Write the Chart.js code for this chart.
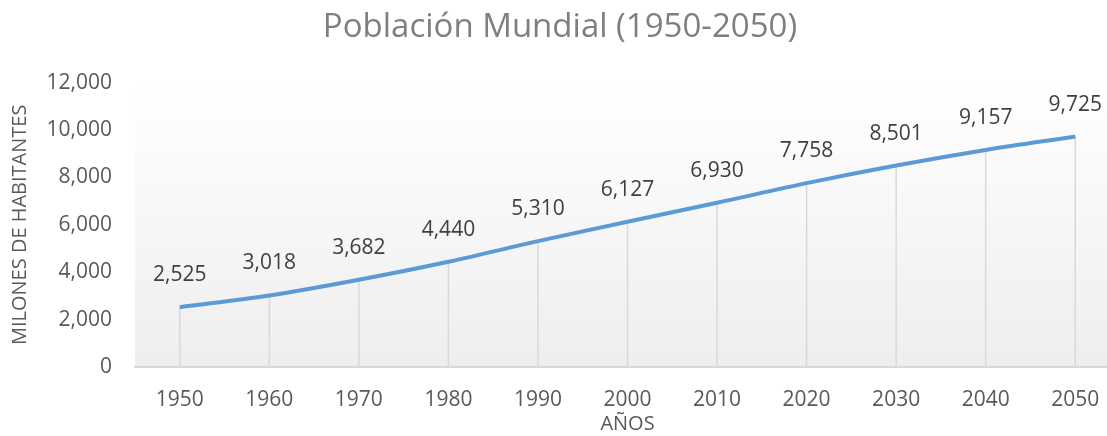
<!DOCTYPE html>
<html>
<head>
<meta charset="utf-8">
<script src="https://cdn.jsdelivr.net/npm/chart.js@4/dist/chart.umd.min.js"></script>
<style>
  html, body { margin: 0; padding: 0; background: #fff; overflow: hidden; }
  #wrap { width: 1120px; height: 436px; }
</style>
</head>
<body>
<div id="wrap"><canvas id="popChart" width="1120" height="436"></canvas></div>
<script>
const years = ["1950", "1960", "1970", "1980", "1990", "2000", "2010", "2020", "2030", "2040", "2050"];
const population = [2525, 3018, 3682, 4440, 5310, 6127, 6930, 7758, 8501, 9157, 9725];
const yTicks = [0, 2000, 4000, 6000, 8000, 10000, 12000];

const FONT = "'Open Sans', sans-serif";
const fmt = v => v.toLocaleString("en-US");

// fondo degradado del área de trazado
const plotBg = {
  id: "plotBg",
  beforeDraw(chart) {
    const { ctx, chartArea: a } = chart;
    const g = ctx.createLinearGradient(0, a.top, 0, a.bottom);
    g.addColorStop(0, "#ffffff");
    g.addColorStop(1, "#eeeeee");
    ctx.save();
    ctx.fillStyle = g;
    ctx.fillRect(a.left, a.top, a.right - a.left, a.bottom - a.top);
    ctx.restore();
  }
};

// líneas de caída + etiquetas de datos
const dropLines = {
  id: "dropLines",
  beforeDatasetsDraw(chart) {
    const { ctx, scales: { x, y } } = chart;
    ctx.save();
    ctx.strokeStyle = "#d9d9d9";
    ctx.lineWidth = 1.5;
    population.forEach((v, i) => {
      const px = x.getPixelForValue(i);
      ctx.beginPath();
      ctx.moveTo(px, y.getPixelForValue(v));
      ctx.lineTo(px, y.getPixelForValue(0));
      ctx.stroke();
    });
    ctx.restore();
  },
  afterDatasetsDraw(chart) {
    const { ctx, scales: { x, y } } = chart;
    ctx.save();
    ctx.fillStyle = "#404040";
    ctx.font = "21px " + FONT;
    ctx.textAlign = "center";
    ctx.textBaseline = "middle";
    population.forEach((v, i) => {
      ctx.fillText(fmt(v), x.getPixelForValue(i), y.getPixelForValue(v) - 32);
    });
    ctx.restore();
  }
};

new Chart(document.getElementById("popChart"), {
  type: "line",
  data: {
    labels: years,
    datasets: [{
      data: population,
      borderColor: "#5b9bd5",
      borderWidth: 4,
      pointRadius: 0,
      tension: 0.35,
      fill: false
    }]
  },
  options: {
    responsive: false,
    animation: false,
    layout: { padding: 0 },
    plugins: {
      legend: { display: false },
      tooltip: { enabled: false },
      title: {
        display: true,
        text: "Población Mundial (1950-2050)",
        color: "#7f7f7f",
        font: { family: FONT, size: 33, weight: "normal" },
        padding: { top: 8, bottom: 35 }
      }
    },
    scales: {
      x: {
        offset: true,
        grid: { display: false, drawTicks: false },
        border: { color: "#d9d9d9", width: 2 },
        ticks: { color: "#595959", font: { family: FONT, size: 21 }, padding: 20, maxRotation: 0 },
        title: {
          display: true, text: "AÑOS", color: "#595959",
          font: { family: FONT, size: 20 }, padding: { top: 0, bottom: 0 }
        },
        afterFit(s) { s.height = 69; }
      },
      y: {
        min: 0, max: 12000,
        grid: { display: false, drawTicks: false },
        border: { display: false },
        afterBuildTicks(s) { s.ticks = yTicks.map(v => ({ value: v })); },
        ticks: {
          color: "#595959", font: { family: FONT, size: 21 }, padding: 23,
          callback: v => fmt(v)
        },
        title: {
          display: true, text: "MILONES DE HABITANTES", color: "#595959",
          font: { family: FONT, size: 20 }, padding: { top: 8, bottom: 0 }
        },
        afterFit(s) { s.width = 135; }
      }
    }
  },
  plugins: [plotBg, dropLines]
});
</script>
</body>
</html>
